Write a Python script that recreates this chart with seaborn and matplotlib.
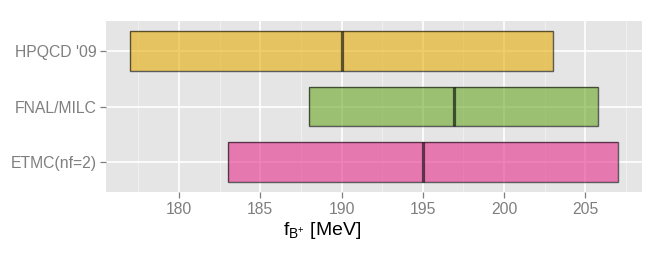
import matplotlib
matplotlib.use("Agg")
import matplotlib.pyplot as plt
import seaborn as sns
import numpy as np
from matplotlib.ticker import MultipleLocator

# Data: f_B+ lattice results (central value and error band)
groups = ["HPQCD '09", "FNAL/MILC", "ETMC(nf=2)"]
low = [177.0, 188.0, 183.0]
central = [190.0, 196.9, 195.0]
high = [203.0, 205.8, 207.0]
colors = ["#E6AB02", "#66A61E", "#E7298A"]

sns.set_theme(style="darkgrid", rc={
    "axes.facecolor": "#E5E5E5",
    "grid.color": "white",
    "axes.edgecolor": "#E5E5E5",
})
plt.rcParams["font.family"] = ["Liberation Sans", "DejaVu Sans"]
plt.rcParams["mathtext.fontset"] = "custom"
plt.rcParams["mathtext.rm"] = "Liberation Sans"
plt.rcParams["mathtext.it"] = "Liberation Sans"

fig = plt.figure(figsize=(6.64, 2.54), dpi=100)
ax = fig.add_axes([0.1596, 0.2429, 0.9669 - 0.1596, 0.9185 - 0.2429])

y = np.arange(len(groups))
widths = np.array(high) - np.array(low)
ax.barh(y, widths, left=low, height=0.71, color=colors, alpha=0.58,
        edgecolor="none", zorder=3)
ax.barh(y, widths, left=low, height=0.71, facecolor="none",
        edgecolor=(0, 0, 0, 0.6), linewidth=1.0, zorder=4)
ax.vlines(central, y - 0.355, y + 0.355, colors=(0, 0, 0, 0.6),
          linewidth=2.3, zorder=5)

ax.set_xlim(175.5, 208.5)
ax.set_ylim(len(groups) - 1 + 0.55, -0.55)
ax.xaxis.set_major_locator(MultipleLocator(5))
ax.xaxis.set_minor_locator(MultipleLocator(2.5))
ax.set_yticks(y)
ax.set_yticklabels(groups)

ax.grid(which="major", color="white", linewidth=1.2, zorder=0)
ax.grid(which="minor", axis="x", color="#F2F2F2", linewidth=0.6, zorder=0)
ax.set_axisbelow(True)
for s in ax.spines.values():
    s.set_visible(False)

ax.tick_params(axis="both", which="major", labelsize=11.3, labelcolor="#7F7F7F",
               color="#7F7F7F", length=4, width=0.9, direction="out", pad=3)
ax.tick_params(axis="both", which="minor", length=0)
ax.tick_params(axis="x", bottom=True)
ax.tick_params(axis="y", left=True)

ax.set_xlabel(r"$\mathrm{f}_{\mathrm{B}^{+}}$ [MeV]", fontsize=14,
              color="black", labelpad=2)
ax.xaxis.set_label_coords((322 - 106) / 536, -0.16)
ax.set_ylabel("")

fig.savefig("out.png", dpi=100)
